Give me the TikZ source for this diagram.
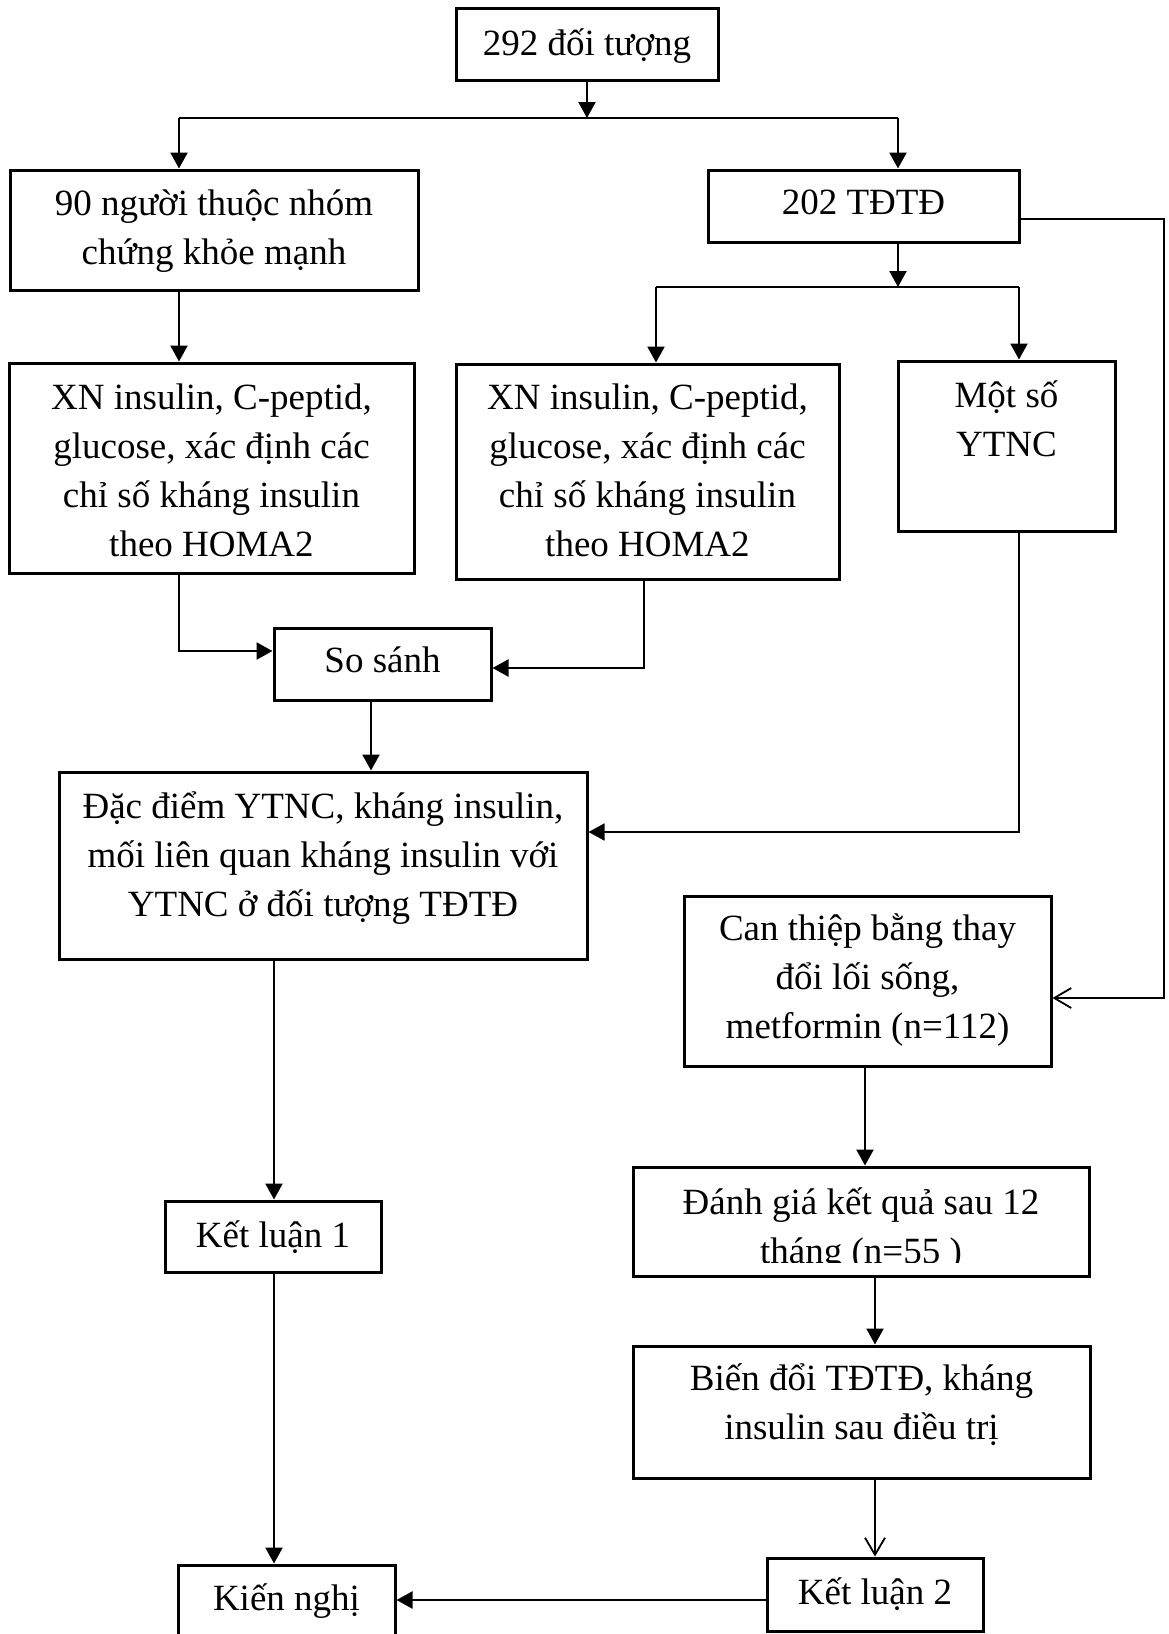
\documentclass[tikz,border=0pt]{standalone}
\usepackage{fontspec}
\setmainfont{Liberation Serif}
\usetikzlibrary{arrows.meta}
\newcommand\mystrut{\rule{0pt}{20pt}}
\begin{document}
\begin{tikzpicture}[x=0.5pt,y=-0.5pt,
  box/.style={draw,line width=1.5pt,inner sep=0pt},
  txt/.style={anchor=north,inner sep=0pt,align=center,font=\fontsize{18.5}{24.5}\selectfont},
  conn/.style={line width=1.15pt},
  arr/.style={line width=1.15pt,-{Triangle[width=8.5pt,length=8pt]}},
  thinarr/.style={line width=0.9pt,-{Triangle[width=8.5pt,length=8pt]}},
  oarr/.style={line width=0.9pt,-{Straight Barb[length=8.5pt,width=10pt,line width=0.9pt]}}]
\useasboundingbox (0,0) rectangle (1168,1634);
\clip (0,0) rectangle (1168,1634);
\fill[white] (0,0) rectangle (1168,1634);

% boxes
\node[box,minimum width=131pt,minimum height=36pt] (A) at (587,44) {};
\node[box,minimum width=204pt,minimum height=60pt] (B) at (214,230) {};
\node[box,minimum width=155.5pt,minimum height=36pt] (C) at (863.5,206) {};
\node[box,minimum width=202.5pt,minimum height=105pt] (D) at (211.5,468) {};
\node[box,minimum width=191.5pt,minimum height=107.5pt] (E) at (647.5,471.5) {};
\node[box,minimum width=108.5pt,minimum height=85pt] (F) at (1006.5,446) {};
\node[box,minimum width=108.5pt,minimum height=36pt] (G) at (382.5,664) {};
\node[box,minimum width=264pt,minimum height=93.5pt] (H) at (323,865.5) {};
\node[box,minimum width=183.5pt,minimum height=85pt] (J) at (867.5,981) {};
\node[box,minimum width=108pt,minimum height=35.5pt] (I) at (273,1236.5) {};
\node[box,minimum width=228pt,minimum height=54.5pt] (K) at (861,1221.5) {};
\node[box,minimum width=228.5pt,minimum height=66pt] (L) at (861.5,1412) {};
\node[box,minimum width=108pt,minimum height=36.5pt] (M) at (875,1594.5) {};
\node[box,minimum width=108.5pt,minimum height=67.5pt] (N) at (286.5,1632.5) {};

% texts
\node[txt] (At) at (587,15) {\mystrut 292 đối tượng};
\node[txt] (Bt) at (214,175) {\mystrut 90 người thuộc nhóm\\chứng khỏe mạnh};
\node[txt] (Ct) at (863.5,174) {\mystrut 202 TĐTĐ};
\node[txt] (Dt) at (211.5,369) {\mystrut XN insulin, C-peptid,\\glucose, xác định các\\chỉ số kháng insulin\\theo HOMA2};
\node[txt] (Et) at (647.5,369) {\mystrut XN insulin, C-peptid,\\glucose, xác định các\\chỉ số kháng insulin\\theo HOMA2};
\node[txt] (Ft) at (1006.5,367) {\mystrut Một số\\YTNC};
\node[txt] (Gt) at (382.5,632) {\mystrut So sánh};
\node[txt] (Ht) at (323,778) {\mystrut Đặc điểm YTNC, kháng insulin,\\mối liên quan kháng insulin với\\YTNC ở đối tượng TĐTĐ};
\node[txt] (Jt) at (867.5,900) {\mystrut Can thiệp bằng thay\\đổi lối sống,\\metformin (n=112)};
\node[txt] (It) at (273,1207) {\mystrut Kết luận 1};
\begin{scope}
\clip (633,1167) rectangle (1089,1262);
\node[txt] (Kt) at (861,1174) {\mystrut Đánh giá kết quả sau 12\\tháng (n=55 )};
\end{scope}
\node[txt] (Lt) at (861.5,1350) {\mystrut Biến đổi TĐTĐ, kháng\\insulin sau điều trị};
\node[txt] (Mt) at (875,1564) {\mystrut Kết luận 2};
\node[txt] (Nt) at (286.5,1570) {\mystrut Kiến nghị};

% connectors
\coordinate (s1) at (587,118);
\coordinate (s1l) at (179,118);
\coordinate (s1r) at (898,118);
\draw[arr] (A.south) -- (s1);
\draw[conn] (s1l) -- (s1r);
\draw[arr] (s1l) -- (s1l |- B.north);
\draw[arr] (s1r) -- (s1r |- C.north);

\coordinate (s2) at (898,287);
\coordinate (s2l) at (656,287);
\coordinate (s2r) at (1019,287);
\draw[arr] (s1r |- C.south) -- (s2);
\draw[conn] (s2l) -- (s2r);
\draw[arr] (s2l) -- (s2l |- E.north);
\draw[arr] (s2r) -- (s2r |- F.north);

\coordinate (r1) at (1164,219);
\coordinate (r2) at (1164,998);
\draw[oarr] (r1 -| C.east) -- (r1) -- (r2) -- (r2 -| J.east);

\draw[arr] (s1l |- B.south) -- (s1l |- D.north);

\coordinate (g1) at (179,651);
\draw[arr] (g1 |- D.south) -- (g1) -- (g1 -| G.west);
\coordinate (g2) at (644,668);
\draw[arr] (g2 |- E.south) -- (g2) -- (g2 -| G.east);
\coordinate (gx) at (371,0);
\draw[arr] (gx |- G.south) -- (gx |- H.north);

\coordinate (h1) at (1019,832);
\draw[thinarr] (h1 |- F.south) -- (h1) -- (h1 -| H.east);

\coordinate (v1) at (274,0);
\draw[arr] (v1 |- H.south) -- (v1 |- I.north);
\draw[arr] (v1 |- I.south) -- (v1 |- N.north);

\coordinate (v2) at (865,0);
\draw[arr] (v2 |- J.south) -- (v2 |- K.north);
\coordinate (v3) at (875,0);
\draw[arr] (v3 |- K.south) -- (v3 |- L.north);
\draw[oarr] (v3 |- L.south) -- (v3 |- M.north);

\coordinate (h2) at (0,1600);
\draw[arr] (h2 -| M.west) -- (h2 -| N.east);
\end{tikzpicture}
\end{document}
